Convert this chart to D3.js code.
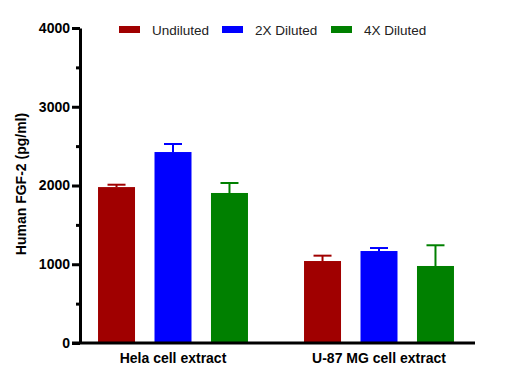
<!DOCTYPE html>
<html><head><meta charset="utf-8">
<script src="https://cdn.jsdelivr.net/npm/d3@7"></script>
<style>body{margin:0;background:#fff}svg{display:block;font-family:"Liberation Sans",Arial,sans-serif}</style>
</head><body><svg id="c" width="519" height="380"></svg>
<script>
const categories = ["Hela cell extract", "U-87 MG cell extract"];
const seriesNames = ["Undiluted", "2X Diluted", "4X Diluted"];
const colors = ["#a00000", "#0000ff", "#008000"];
const undiluted = [1980, 1041];
const diluted2x = [2425, 1168];
const diluted4x = [1905, 978];
const errUndiluted = [30, 68];
const err2x = [102, 38];
const err4x = [127, 263];
const majorTicks = [0, 1000, 2000, 3000, 4000];
const minorTicks = [500, 1500, 2500, 3500];

const values = [undiluted, diluted2x, diluted4x];
const errs = [errUndiluted, err2x, err4x];

const svg = d3.select("#c");
const y = d3.scaleLinear().domain([0, 4000]).range([343, 28]);
const x0 = d3.scaleBand().domain(categories).range([70, 482]).paddingInner(0.175).paddingOuter(0.0875);
const x1 = d3.scaleBand().domain(seriesNames).range([0, x0.bandwidth()]).paddingInner(0.345).paddingOuter(0.177);

const data = [];
categories.forEach((c, ci) => seriesNames.forEach((s, si) => data.push({c, s, si, v: values[si][ci], e: errs[si][ci]})));

const g = svg.append("g");
const eb = g.selectAll(".eb").data(data).enter().append("g");
eb.append("line")
  .attr("x1", d => x0(d.c) + x1(d.s) + x1.bandwidth()/2)
  .attr("x2", d => x0(d.c) + x1(d.s) + x1.bandwidth()/2)
  .attr("y1", d => y(d.v)).attr("y2", d => y(d.v + d.e))
  .attr("stroke", d => colors[d.si]).attr("stroke-width", 2);
eb.append("line")
  .attr("x1", d => x0(d.c) + x1(d.s) + x1.bandwidth()/2 - 9)
  .attr("x2", d => x0(d.c) + x1(d.s) + x1.bandwidth()/2 + 9)
  .attr("y1", d => y(d.v + d.e)).attr("y2", d => y(d.v + d.e))
  .attr("stroke", d => colors[d.si]).attr("stroke-width", 2);
g.selectAll(".bar").data(data).enter().append("rect")
  .attr("x", d => x0(d.c) + x1(d.s))
  .attr("width", x1.bandwidth())
  .attr("y", d => y(d.v))
  .attr("height", d => y(0) - y(d.v))
  .attr("fill", d => colors[d.si]);

const ya = svg.append("g").attr("transform", "translate(80,0)")
  .call(d3.axisLeft(y).tickValues(majorTicks).tickFormat(d3.format("d")).tickSize(8).tickSizeOuter(0).tickPadding(2));
ya.select(".domain").attr("stroke", "#000").attr("stroke-width", 3);
ya.selectAll(".tick line").attr("stroke", "#000").attr("stroke-width", 3);
ya.selectAll(".tick text").attr("font-size", 14).attr("font-weight", "bold").attr("fill", "#000").attr("font-family", "Liberation Sans, Arial, sans-serif");
const ym = svg.append("g").attr("transform", "translate(80,0)")
  .call(d3.axisLeft(y).tickValues(minorTicks).tickSize(4).tickFormat(""));
ym.select(".domain").remove();
ym.selectAll(".tick line").attr("stroke", "#000").attr("stroke-width", 3);

svg.append("line").attr("x1", 72).attr("x2", 475).attr("y1", y(0)).attr("y2", y(0))
  .attr("stroke", "#000").attr("stroke-width", 3);
svg.selectAll(".cat").data(categories).enter().append("text")
  .attr("x", d => x0(d) + x0.bandwidth()/2).attr("y", 363)
  .attr("text-anchor", "middle").attr("font-size", 14).attr("font-weight", "bold")
  .text(d => d);

svg.append("text").attr("transform", "translate(26,184) rotate(-90)")
  .attr("text-anchor", "middle").attr("font-size", 14).attr("font-weight", "bold")
  .text("Human FGF-2 (pg/ml)");

const legX = [119, 222, 331];
const lg = svg.selectAll(".leg").data(seriesNames).enter().append("g")
  .attr("transform", (d, i) => `translate(${legX[i]},26)`);
lg.append("rect").attr("width", 21).attr("height", 7).attr("y", 0).attr("fill", (d, i) => colors[i]);
lg.append("text").attr("x", 33).attr("y", 9).attr("font-size", 13.5).attr("fill", "#222").text(d => d);
</script></body></html>
